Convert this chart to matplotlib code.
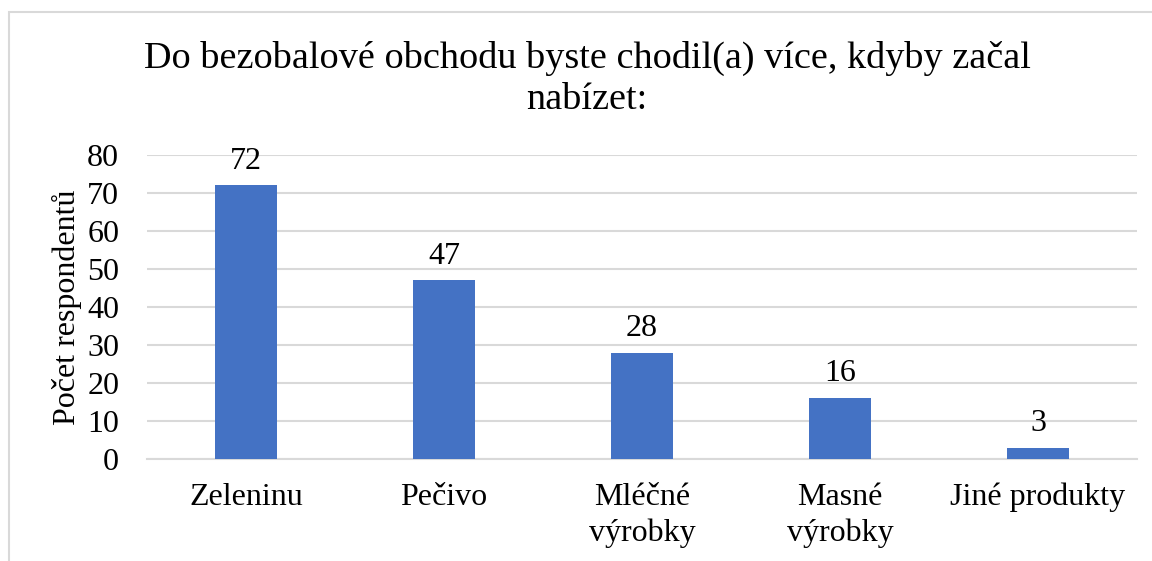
import matplotlib.pyplot as plt
import matplotlib.patches as mpatches
import numpy as np

categories = ["Zeleninu", "Pečivo", "Mléčné\nvýrobky", "Masné\nvýrobky", "Jiné produkty"]
values = [72, 47, 28, 16, 3]
yticks = [0, 10, 20, 30, 40, 50, 60, 70, 80]

BAR_COLOR = "#4472C4"
GRID_COLOR = "#D9D9D9"
W, H = 1152, 561
FS = 23

plt.rcParams["font.family"] = ["Liberation Serif", "DejaVu Serif"]

fig = plt.figure(figsize=(W / 100, H / 100), dpi=100)
ax = fig.add_axes([147 / W, 1 - 459 / H, (1137 - 147) / W, (459 - 155) / H])

x = np.arange(len(categories))
bars = ax.bar(x, values, width=0.31, color=BAR_COLOR, zorder=3)
for xi, v in zip(x, values):
    ax.text(xi, v + 2.6, str(v), ha="center", va="bottom", fontsize=FS)

ax.set_xlim(-0.5, len(categories) - 0.5)
ax.set_ylim(0, 80)
ax.set_yticks(yticks)
ax.set_yticklabels([str(t) for t in yticks], fontsize=FS)
ax.set_xticks(x)
ax.set_xticklabels(categories, fontsize=FS, linespacing=1.3, va="top")
ax.tick_params(axis="x", length=0, pad=17)
ax.tick_params(axis="y", length=0, pad=20)
ax.grid(axis="y", color=GRID_COLOR, linewidth=1.5, zorder=0)
for s in ["top", "right", "left"]:
    ax.spines[s].set_visible(False)
ax.spines["bottom"].set_color(GRID_COLOR)
ax.spines["bottom"].set_linewidth(1.5)

ax.set_ylabel("Počet respondentů", fontsize=FS, labelpad=4)

fig.text(587 / W, 1 - 79 / H, "Do bezobalové obchodu byste chodil(a) více, kdyby začal\nnabízet:",
         ha="center", va="center", fontsize=27.5, linespacing=1.22)

# outer chart border
fig.patches.append(mpatches.Rectangle((9 / W, -0.1), 1.2, 1 - 12 / H + 0.1,
                                      transform=fig.transFigure, fill=False,
                                      edgecolor="#D9D9D9", linewidth=1.5))

fig.savefig("out.png", dpi=100)
